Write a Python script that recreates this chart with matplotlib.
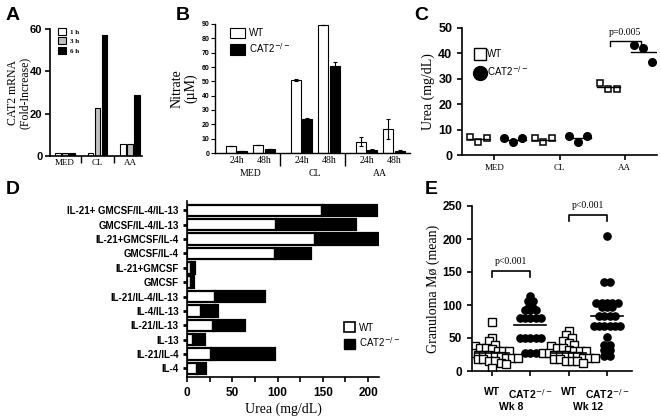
import numpy as np
import matplotlib
matplotlib.use("Agg")
from matplotlib import pyplot as plt
from matplotlib.patches import Patch
from matplotlib.lines import Line2D

SERIF = "Liberation Serif"
SANS = "Liberation Sans"
LETTER = ["Liberation Sans Narrow", "Liberation Sans"]

# ---- panel A: CAT2 mRNA
a_groups = ["MED", "CL", "AA"]
a_1h = [1.2, 1.2, 5.5]
a_3h = [1.2, 22.5, 5.5]
a_6h = [1.2, 57, 29]

# ---- panel B: nitrate
b_groups = ["MED", "CL", "AA"]
b_wt24 = [5, 51, 8]
b_wt24_err = [0, 0.8, 3.4]
b_ko24 = [1.4, 24, 2.4]
b_ko24_err = [0, 0.6, 0.3]
b_wt48 = [5.6, 89, 17]
b_wt48_err = [0, 0, 7]
b_ko48 = [2.8, 61, 1.6]
b_ko48_err = [0, 2.2, 0.3]

# ---- panel C: urea
c_groups = ["MED", "CL", "AA"]
c_wt = [[7, 5.2, 6.5], [6.5, 5.2, 6.5], [28.5, 26, 26]]
c_ko = [[6.5, 5, 6.5], [7.3, 5.3, 7.3], [43.5, 42, 36.5]]

# ---- panel D: urea by cytokine (top to bottom)
d_labels = ["IL-21+ GMCSF/IL-4/IL-13", "GMCSF/IL-4/IL-13", "IL-21+GMCSF/IL-4",
            "GMCSF/IL-4", "IL-21+GMCSF", "GMCSF", "IL-21/IL-4/IL-13",
            "IL-4/IL-13", "IL-21/IL-13", "IL-13", "IL-21/IL-4", "IL-4"]
d_wt = [149, 98, 141, 97, 4, 4, 31, 16, 29, 7, 27, 11]
d_total = [210, 187, 214, 137, 9, 8, 86, 34, 64, 20, 97, 21]

# ---- panel E: granuloma macrophages
e_wt8 = [75, 50, 45, 40, 38, 35, 35, 33, 30, 30, 30, 28, 27, 25, 25, 25, 22, 22,
         20, 20, 20, 18, 18, 15, 15, 12, 10, 5]
e_ko8 = [114, 106, 106, 100, 96, 96, 92, 92, 92, 80, 80, 80, 80, 80,
         50, 50, 50, 50, 50, 28, 28, 28]
e_wt12 = [60, 55, 50, 45, 42, 40, 38, 35, 35, 32, 30, 30, 30, 28, 28, 25, 25, 25,
          22, 22, 20, 20, 20, 18, 18, 15, 15, 15, 12]
e_ko12 = [205, 135, 135, 103, 103, 103, 103, 103, 97, 97, 97, 83, 83, 83, 83,
          68, 68, 68, 68, 68, 68, 52, 40, 40, 32, 32, 22, 22]
e_means = [27, 70, 27, 83]
e_ticklabels = ["WT", "CAT2$^{-/-}$", "WT", "CAT2$^{-/-}$"]
e_weeks = ["Wk 8", "Wk 12"]

W, H = 661, 420
fig = plt.figure(figsize=(W / 100, H / 100), dpi=100)


def rect(l, t, r, b):
    return [l / W, 1 - b / H, (r - l) / W, (b - t) / H]


def style(ax, lw=1.2):
    for s in ["top", "right"]:
        ax.spines[s].set_visible(False)
    for s in ["left", "bottom"]:
        ax.spines[s].set_linewidth(lw)
    ax.tick_params(width=lw, length=3.5, direction="out")


def letter(x, y, s):
    fig.text(x / W, 1 - y / H, s, family=LETTER, fontweight="bold", fontsize=14,
             va="center", ha="left")


# ================= A
ax = fig.add_axes(rect(50, 29, 142, 156))
style(ax)
x = np.arange(len(a_groups))
for vals, col, off, lab in [(a_1h, "white", -0.22, "1 h"), (a_3h, "#c0c0c0", 0.0, "3 h"),
                            (a_6h, "black", 0.22, "6 h")]:
    ax.bar(x + off, vals, 0.17, color=col, edgecolor="black", linewidth=0.8, label=lab)
ax.set_xlim(-0.46, 2.37)
ax.set_ylim(0, 60)
ax.set_yticks([0, 20, 40, 60])
ax.set_yticklabels(["0", "20", "40", "60"], family=SANS, fontweight="bold", fontsize=8)
ax.tick_params(axis="y", pad=2)
ax.set_xticks(x)
ax.set_xticklabels(a_groups, family=SERIF, fontsize=6.5)
ax.tick_params(axis="x", length=0, pad=2)
ax.set_xticks([0.5, 1.5], minor=True)
ax.tick_params(axis="x", which="minor", length=5, width=1)
ax.set_ylabel("CAT2 mRNA\n(Fold-Increase)", family=SERIF, fontsize=8.5, linespacing=0.95,
              va="center")
ax.yaxis.set_label_coords(-0.34, 0.5)
leg = ax.legend(loc="upper left", bbox_to_anchor=(0.02, 1.06), frameon=False,
                prop={"family": SERIF, "weight": "bold", "size": 5}, handlelength=1.2,
                handleheight=1.2, labelspacing=0.35, handletextpad=0.5)
letter(6, 15, "A")

# ================= B
ax = fig.add_axes(rect(215, 24, 410, 153))
style(ax, 1.0)
x = np.arange(len(b_groups))
offs = [0.24, 0.42, 0.66, 0.84]
bw = 0.155
ek = dict(ecolor="black", elinewidth=0.8, capsize=1.5, capthick=0.8)
ax.bar(x + offs[0], b_wt24, bw, yerr=b_wt24_err, color="white", edgecolor="black",
       linewidth=0.8, error_kw=ek, label="WT")
ax.bar(x + offs[1], b_ko24, bw, yerr=b_ko24_err, color="black", edgecolor="black",
       linewidth=0.8, error_kw=ek, label="CAT2$^{-/-}$")
ax.bar(x + offs[2], b_wt48, bw, yerr=b_wt48_err, color="white", edgecolor="black",
       linewidth=0.8, error_kw=ek)
ax.bar(x + offs[3], b_ko48, bw, yerr=b_ko48_err, color="black", edgecolor="black",
       linewidth=0.8, error_kw=ek)
ax.set_xlim(0, 3)
ax.set_ylim(0, 90)
ax.set_yticks(np.arange(0, 91, 10))
ax.set_yticklabels([str(v) for v in range(0, 91, 10)], family=SANS, fontweight="bold",
                   fontsize=5)
ax.tick_params(axis="y", length=3, width=0.8, pad=1)
pos = np.concatenate([x + 0.33, x + 0.75])
ax.set_xticks(np.sort(pos))
ax.set_xticklabels(["24h", "48h"] * 3, family=SERIF, fontsize=7)
ax.tick_params(axis="x", length=0, pad=2)
ax.set_xticks([1, 2], minor=True)
ax.tick_params(axis="x", which="minor", length=9, width=1)
for i, g in enumerate(b_groups):
    ax.text(i + 0.54, -0.16, g, transform=ax.get_xaxis_transform(), family=SERIF,
            fontsize=7, ha="center", va="center")
ax.set_ylabel("Nitrate\n(\u00b5M)", family=SERIF, fontsize=10, labelpad=3, linespacing=1.0)
ax.legend(loc="upper left", bbox_to_anchor=(0.03, 1.04), frameon=False,
          prop={"family": SANS, "size": 7}, handlelength=1.6, handleheight=1.3,
          labelspacing=0.3, handletextpad=0.4)
letter(176, 15, "B")

# ================= C
ax = fig.add_axes(rect(462, 28, 657, 155))
style(ax)
wt_off = np.array([-0.38, -0.25, -0.12])
ko_off = np.array([0.15, 0.29, 0.43])
for i in range(len(c_groups)):
    ax.plot(i + wt_off, c_wt[i], "s", ms=4.5, mfc="white", mec="black", mew=1.1)
    ax.plot(i + ko_off, c_ko[i], "o", ms=5.5, color="black")
    ax.plot([i - 0.43, i - 0.07], [np.mean(c_wt[i])] * 2, color="black", lw=1)
    ax.plot([i + 0.1, i + 0.48], [np.mean(c_ko[i])] * 2, color="black", lw=1)
ax.set_xlim(-0.5, 2.5)
ax.set_ylim(0, 50)
ax.set_yticks(range(0, 51, 10))
ax.set_yticklabels([str(v) for v in range(0, 51, 10)], family=SANS, fontweight="bold",
                   fontsize=9)
ax.set_xticks(range(3))
ax.set_xticklabels(c_groups, family=SERIF, fontsize=6.5)
ax.tick_params(axis="x", pad=3)
ax.set_ylabel("Urea (mg/dL)", family=SERIF, fontsize=10, labelpad=2)
bx0, bx1, by = 2 - 0.23, 2 + 0.25, 45
ax.plot([bx0, bx0, bx1, bx1], [by - 2, by, by, by - 2], color="black", lw=1, clip_on=False)
ax.text((bx0 + bx1) / 2, by + 1.5, "p=0.005", family=SERIF, fontsize=7, ha="center",
        va="bottom")
handles = [Line2D([], [], ls="none", marker="s", ms=8, mfc="white", mec="black", mew=1),
           Line2D([], [], ls="none", marker="o", ms=10, color="black")]
ax.legend(handles, ["WT", "CAT2$^{-/-}$"], loc="upper left", bbox_to_anchor=(0.02, 0.9),
          frameon=False, prop={"family": SANS, "size": 7}, handlelength=1.0,
          labelspacing=0.5, handletextpad=0.3)
letter(414, 15, "C")

# ================= D
ax = fig.add_axes(rect(187, 201, 379, 377))
style(ax)
y = np.arange(len(d_labels))[::-1]
d_ko = [t - w for t, w in zip(d_total, d_wt)]
ax.barh(y, d_wt, 0.8, color="white", edgecolor="black", linewidth=1.6)
ax.barh(y, d_ko, 0.8, left=d_wt, color="black", edgecolor="black", linewidth=1.6)
ax.set_ylim(-0.6, len(d_labels) - 0.35)
ax.set_xlim(0, 212)
ax.set_yticks(y)
ax.set_yticklabels(d_labels, family=SANS, fontweight="bold", fontsize=7)
ax.tick_params(axis="y", length=3, width=2, pad=3)
ax.set_xticks(range(0, 201, 50))
ax.set_xticklabels([str(v) for v in range(0, 201, 50)], family=SANS, fontweight="bold",
                   fontsize=8.5)
ax.set_xticks(range(25, 201, 50), minor=True)
ax.tick_params(axis="x", which="minor", length=3.5, width=1.2)
ax.set_xlabel("Urea (mg/dL)", family=SERIF, fontsize=10, labelpad=3)
handles = [Patch(facecolor="white", edgecolor="black", linewidth=1.2),
           Patch(facecolor="black", edgecolor="black")]
ax.legend(handles, ["WT", "CAT2$^{-/-}$"], loc="lower left", bbox_to_anchor=(0.77, 0.11),
          frameon=False, prop={"family": SANS, "size": 7}, handlelength=1.2,
          handleheight=1.2, labelspacing=0.25, handletextpad=0.4)
letter(6, 190, "D")

# ================= E
ax = fig.add_axes(rect(472, 206, 632, 371))
style(ax)


def swarm(vals, center, binsize, spacing):
    vals = np.asarray(vals, float)
    xs = np.zeros_like(vals)
    bins = np.floor(vals / binsize)
    for b in np.unique(bins):
        idx = np.where(bins == b)[0]
        n = len(idx)
        xs[idx] = center + (np.arange(n) - (n - 1) / 2) * spacing
    return xs


for i, (vals, kind) in enumerate([(e_wt8, "s"), (e_ko8, "o"), (e_wt12, "s"), (e_ko12, "o")]):
    if kind == "s":
        xs = swarm(vals, i, 10, 0.15)
        ax.plot(xs, vals, "s", ms=6, mfc="white", mec="black", mew=1.0)
        ax.plot([i - 0.45, i + 0.45], [e_means[i]] * 2, color="black", lw=1.2)
    else:
        xs = swarm(vals, i, 5, 0.14)
        ax.plot(xs, vals, "o", ms=5.2, color="black")
        ax.plot([i - 0.42, i + 0.42], [e_means[i]] * 2, color="black", lw=1.2)
ax.set_xlim(-0.52, 3.65)
ax.set_ylim(0, 250)
ax.set_yticks(range(0, 251, 50))
ax.set_yticklabels([str(v) for v in range(0, 251, 50)], family=SANS, fontweight="bold",
                   fontsize=8.5)
ax.set_xticks(range(4))
ax.set_xticklabels(e_ticklabels, family=SANS, fontweight="bold", fontsize=7.5)
ax.tick_params(axis="x", pad=8)
for k, wk in enumerate(e_weeks):
    ax.text(2 * k + 0.5, -0.22, wk, transform=ax.get_xaxis_transform(), family=SANS,
            fontweight="bold", fontsize=7.5, ha="center", va="center")
for x0, yb, yt in [(0, 151, 166), (2, 236, 251)]:
    ax.plot([x0, x0, x0 + 1, x0 + 1], [yb - 8, yb, yb, yb - 8], color="black", lw=1.2,
            clip_on=False)
    ax.text(x0 + 0.5, yt, "p<0.001", family=SERIF, fontsize=7, ha="center", va="center",
            clip_on=False)
ax.set_ylabel("Granuloma M\u00f8 (mean)", family=SERIF, fontsize=10, labelpad=2)
letter(425, 190, "E")

fig.savefig("out.png", dpi=100)
